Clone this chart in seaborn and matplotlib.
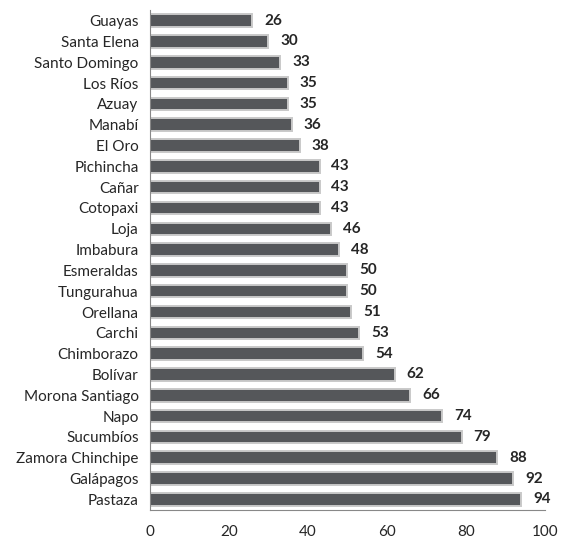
import pandas as pd
import matplotlib.pyplot as plt
import seaborn as sns

provinces = ['Guayas', 'Santa Elena', 'Santo Domingo', 'Los Ríos', 'Azuay', 'Manabí',
             'El Oro', 'Pichincha', 'Cañar', 'Cotopaxi', 'Loja', 'Imbabura',
             'Esmeraldas', 'Tungurahua', 'Orellana', 'Carchi', 'Chimborazo', 'Bolívar',
             'Morona Santiago', 'Napo', 'Sucumbíos', 'Zamora Chinchipe', 'Galápagos', 'Pastaza']
values = [26, 30, 33, 35, 35, 36, 38, 43, 43, 43, 46, 48, 50, 50, 51, 53, 54, 62,
          66, 74, 79, 88, 92, 94]
xticks = [0, 20, 40, 60, 80, 100]

df = pd.DataFrame({'Provincia': provinces, 'Valor': values})

sns.set_style('white')
plt.rcParams['font.family'] = ['Lato', 'DejaVu Sans']

fig = plt.figure(figsize=(5.61, 5.4), dpi=100)
ax = fig.add_axes([0.267, 0.056, 0.704, 0.925])

sns.barplot(data=df, y='Provincia', x='Valor', orient='h', color='#55575a',
            saturation=1, width=0.6, edgecolor='#c9c9c9', linewidth=1.4, ax=ax)

for i, v in enumerate(values):
    ax.text(v + 3, i, str(v), va='center', ha='left', fontsize=11, fontweight='bold')

ax.set_xlim(0, 100)
ax.set_xticks(xticks)
ax.set_ylim(len(values) - 0.5, -0.5)
ax.set_xlabel('')
ax.set_ylabel('')
ax.tick_params(axis='both', length=0, labelsize=11)
ax.tick_params(axis='x', pad=11)
ax.tick_params(axis='y', pad=8)
for s in ['top', 'right']:
    ax.spines[s].set_visible(False)
ax.spines['left'].set_color('#888888')
ax.spines['bottom'].set_color('#888888')
ax.spines['left'].set_linewidth(0.8)
ax.spines['bottom'].set_linewidth(0.8)

plt.savefig('out.png', dpi=100)
